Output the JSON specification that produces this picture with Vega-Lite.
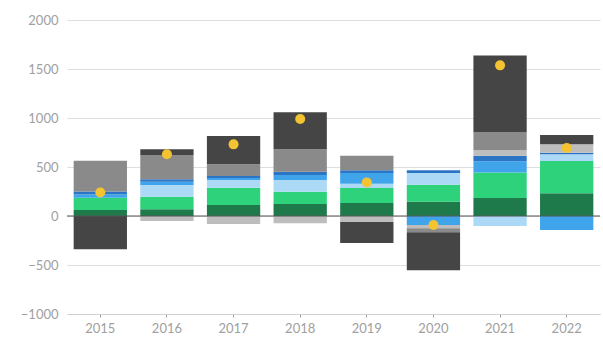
{
  "$schema": "https://vega.github.io/schema/vega-lite/v6.json",
  "width": 533,
  "height": 294,
  "autosize": {"type": "none"},
  "padding": {"left": 67, "top": 20, "right": 3, "bottom": 26},
  "background": "white",
  "config": {
    "view": {"stroke": null},
    "font": "Lato",
    "axis": {"labelFont": "Lato", "labelColor": "#a0a0a0", "labelFontSize": 13}
  },
  "datasets": {
    "bars": [
      {"year": "2015", "series": "s1", "order": 1, "value": 61},
      {"year": "2015", "series": "s2", "order": 2, "value": 126},
      {"year": "2015", "series": "s4", "order": 4, "value": 35},
      {"year": "2015", "series": "s5", "order": 5, "value": 27},
      {"year": "2015", "series": "s7", "order": 7, "value": 315},
      {"year": "2015", "series": "s8", "order": 8, "value": -340},
      {"year": "2016", "series": "s1", "order": 1, "value": 70},
      {"year": "2016", "series": "s2", "order": 2, "value": 126},
      {"year": "2016", "series": "s3", "order": 3, "value": 120},
      {"year": "2016", "series": "s4", "order": 4, "value": 34},
      {"year": "2016", "series": "s5", "order": 5, "value": 24},
      {"year": "2016", "series": "s7", "order": 7, "value": 248},
      {"year": "2016", "series": "s8", "order": 8, "value": 60},
      {"year": "2016", "series": "s6", "order": 6, "value": -52},
      {"year": "2017", "series": "s1", "order": 1, "value": 112},
      {"year": "2017", "series": "s2", "order": 2, "value": 177},
      {"year": "2017", "series": "s3", "order": 3, "value": 78},
      {"year": "2017", "series": "s4", "order": 4, "value": 20},
      {"year": "2017", "series": "s5", "order": 5, "value": 21},
      {"year": "2017", "series": "s7", "order": 7, "value": 120},
      {"year": "2017", "series": "s8", "order": 8, "value": 288},
      {"year": "2017", "series": "s6", "order": 6, "value": -82},
      {"year": "2018", "series": "s1", "order": 1, "value": 122},
      {"year": "2018", "series": "s2", "order": 2, "value": 126},
      {"year": "2018", "series": "s3", "order": 3, "value": 119},
      {"year": "2018", "series": "s4", "order": 4, "value": 51},
      {"year": "2018", "series": "s5", "order": 5, "value": 34},
      {"year": "2018", "series": "s7", "order": 7, "value": 229},
      {"year": "2018", "series": "s8", "order": 8, "value": 377},
      {"year": "2018", "series": "s6", "order": 6, "value": -75},
      {"year": "2019", "series": "s1", "order": 1, "value": 133},
      {"year": "2019", "series": "s2", "order": 2, "value": 153},
      {"year": "2019", "series": "s3", "order": 3, "value": 44},
      {"year": "2019", "series": "s4", "order": 4, "value": 109},
      {"year": "2019", "series": "s5", "order": 5, "value": 27},
      {"year": "2019", "series": "s7", "order": 7, "value": 149},
      {"year": "2019", "series": "s6", "order": 6, "value": -61},
      {"year": "2019", "series": "s8", "order": 8, "value": -214},
      {"year": "2020", "series": "s1", "order": 1, "value": 146},
      {"year": "2020", "series": "s2", "order": 2, "value": 174},
      {"year": "2020", "series": "s3", "order": 3, "value": 119},
      {"year": "2020", "series": "s5", "order": 5, "value": 27},
      {"year": "2020", "series": "s4", "order": 4, "value": -92},
      {"year": "2020", "series": "s6", "order": 6, "value": -34},
      {"year": "2020", "series": "s7", "order": 7, "value": -40},
      {"year": "2020", "series": "s8", "order": 8, "value": -387},
      {"year": "2021", "series": "s1", "order": 1, "value": 184},
      {"year": "2021", "series": "s2", "order": 2, "value": 261},
      {"year": "2021", "series": "s4", "order": 4, "value": 113},
      {"year": "2021", "series": "s5", "order": 5, "value": 57},
      {"year": "2021", "series": "s6", "order": 6, "value": 55},
      {"year": "2021", "series": "s7", "order": 7, "value": 187},
      {"year": "2021", "series": "s8", "order": 8, "value": 782},
      {"year": "2021", "series": "s3", "order": 3, "value": -102},
      {"year": "2022", "series": "s1", "order": 1, "value": 232},
      {"year": "2022", "series": "s2", "order": 2, "value": 329},
      {"year": "2022", "series": "s3", "order": 3, "value": 69},
      {"year": "2022", "series": "s5", "order": 5, "value": 16},
      {"year": "2022", "series": "s6", "order": 6, "value": 86},
      {"year": "2022", "series": "s8", "order": 8, "value": 95},
      {"year": "2022", "series": "s4", "order": 4, "value": -143}
    ],
    "totals": [
      {"year": "2015", "total": 239},
      {"year": "2016", "total": 630},
      {"year": "2017", "total": 731},
      {"year": "2018", "total": 990},
      {"year": "2019", "total": 343},
      {"year": "2020", "total": -92},
      {"year": "2021", "total": 1537},
      {"year": "2022", "total": 694}
    ]
  },
  "encoding": {
    "x": {
      "field": "year", "type": "nominal", "title": null,
      "scale": {"paddingInner": 0.2, "paddingOuter": 0.1},
      "axis": {
        "labelAngle": 0, "domainColor": "#d0d0d0", "tickColor": "#9a9a9a",
        "tickSize": 3, "labelPadding": 5, "grid": false
      }
    }
  },
  "layer": [
    {
      "data": {"name": "bars"},
      "mark": {"type": "bar"},
      "encoding": {
        "y": {
          "field": "value", "type": "quantitative", "stack": "zero", "title": null,
          "scale": {"domain": [-1000, 2000], "nice": false},
          "axis": {
            "values": [-1000, -500, 0, 500, 1000, 1500, 2000],
            "format": "d",
            "domain": false, "ticks": false, "labelPadding": 9,
            "gridColor": "#dedede", "gridWidth": 1.2
          }
        },
        "color": {
          "field": "series", "type": "nominal", "legend": null,
          "scale": {
            "domain": ["s1", "s2", "s3", "s4", "s5", "s6", "s7", "s8"],
            "range": ["#1f7a4b", "#2dd27b", "#acd9f5", "#3fa4ea", "#2c74c4", "#bdbdbd", "#8a8a8a", "#454545"]
          }
        },
        "order": {"field": "order", "type": "quantitative"}
      }
    },
    {
      "data": {"values": [{}]},
      "mark": {"type": "rule", "color": "#555555", "strokeWidth": 1.2},
      "encoding": {"y": {"datum": 0}, "x": {"value": 0}, "x2": {"value": 533}}
    },
    {
      "data": {"name": "totals"},
      "mark": {"type": "circle", "color": "#f3c331", "opacity": 1, "size": 100},
      "encoding": {
        "y": {"field": "total", "type": "quantitative"}
      }
    }
  ]
}
